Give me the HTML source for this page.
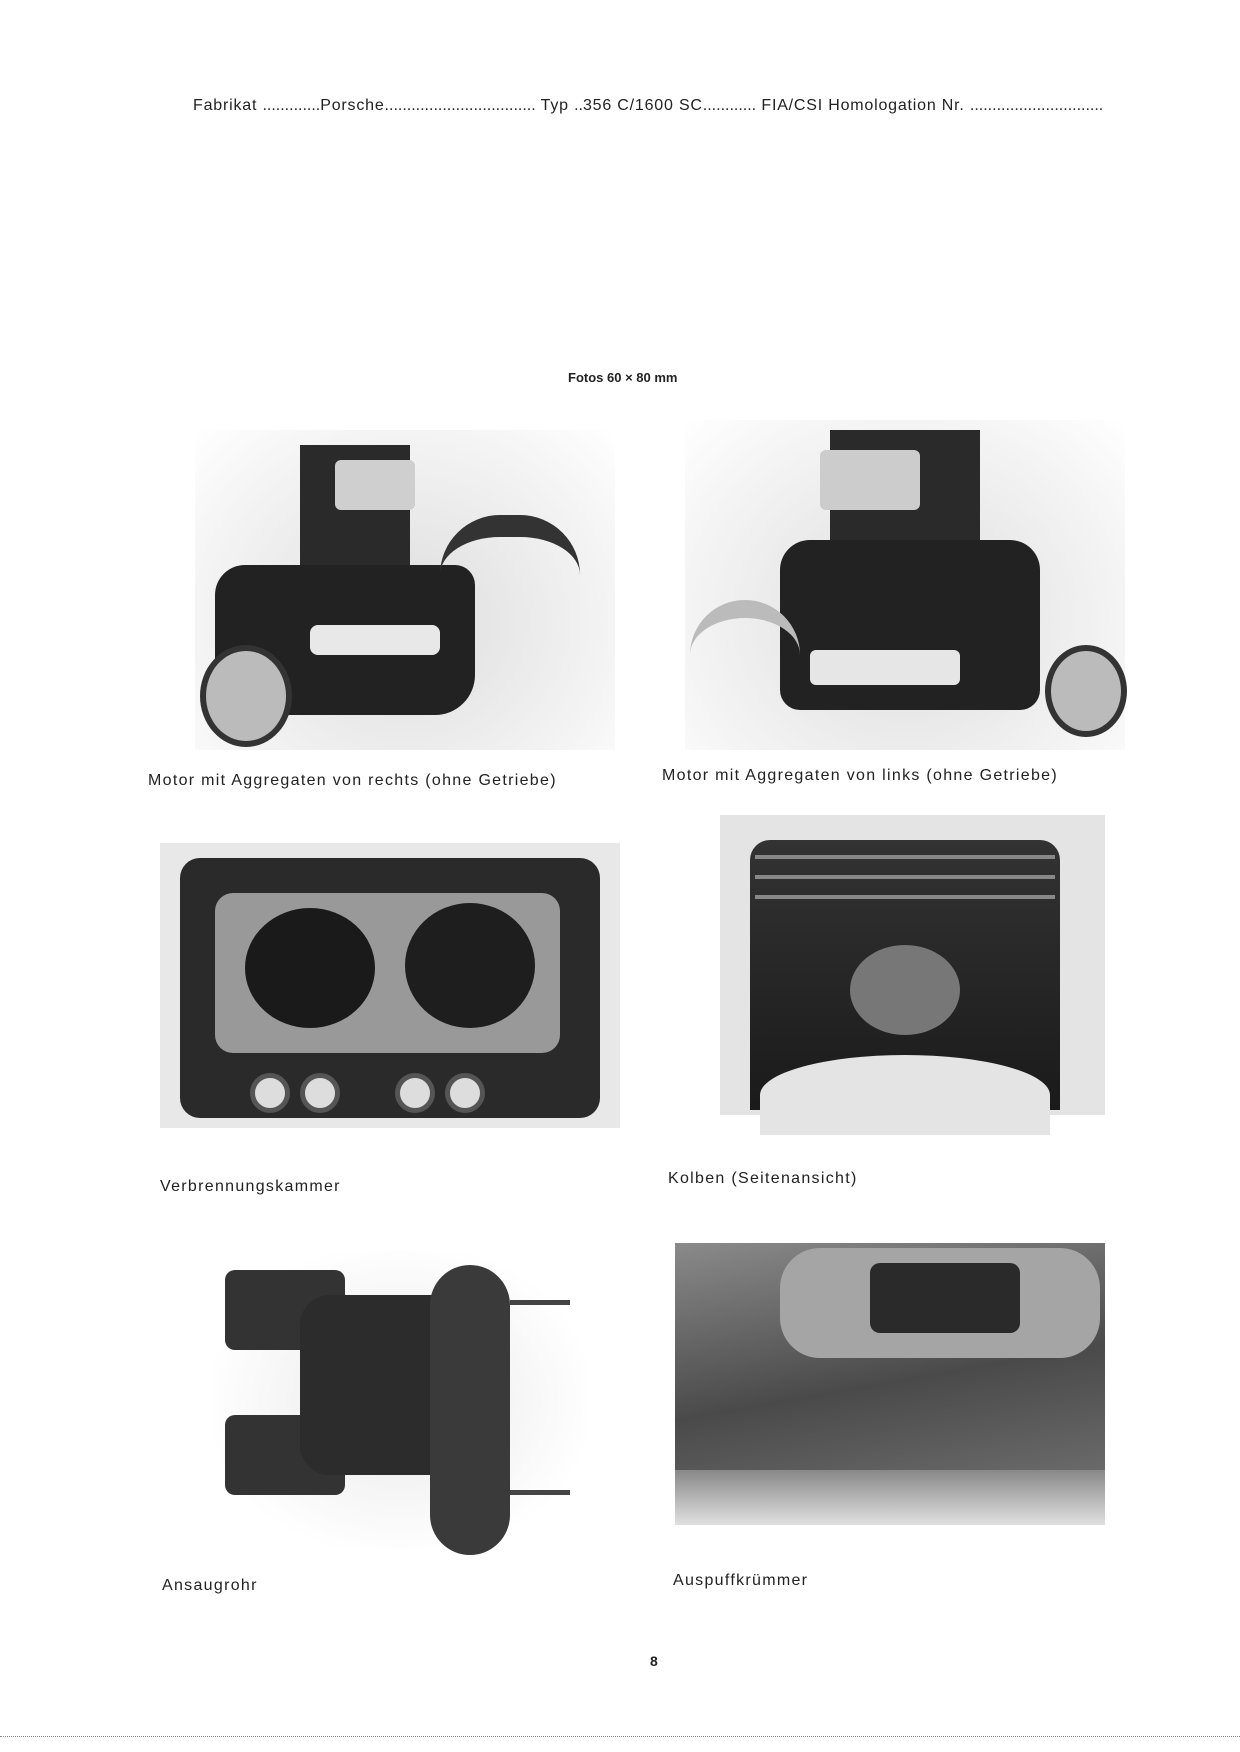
<!DOCTYPE html>
<html><head><meta charset="utf-8"><style>
*{margin:0;padding:0}
body{width:1240px;height:1752px;background:#fff;position:relative;overflow:hidden;font-family:"Liberation Sans",sans-serif;color:#222}
.t{position:absolute;font-size:16px;letter-spacing:1.3px;white-space:nowrap}
.a{position:absolute}
</style></head><body>
<div class="t" style="left:193px;top:97px;font-size:16px;letter-spacing:0.8px">Fabrikat <span style="letter-spacing:0">.............</span>Porsche<span style="letter-spacing:0">..................................</span> Typ <span style="letter-spacing:0">..</span>356 C/1600 SC<span style="letter-spacing:0">............</span> FIA/CSI Homologation Nr. <span style="letter-spacing:0">..............................</span></div>
<div class="t" style="left:568px;top:370px;font-weight:bold;font-size:13px;letter-spacing:0">Fotos 60 × 80 mm</div>

<!-- photo 1 -->
<div class="a" style="left:195px;top:430px;width:420px;height:320px;background:radial-gradient(ellipse at 50% 60%,#ddd,#f4f4f4 70%,#fff)"></div>
<div class="a" style="left:300px;top:445px;width:110px;height:150px;background:#2a2a2a"></div>
<div class="a" style="left:335px;top:460px;width:80px;height:50px;background:#cfcfcf;border-radius:6px"></div>
<div class="a" style="left:215px;top:565px;width:260px;height:150px;background:#222;border-radius:30px 20px 40px 40px"></div>
<div class="a" style="left:200px;top:645px;width:80px;height:90px;background:#bbb;border-radius:50%;border:6px solid #333"></div>
<div class="a" style="left:310px;top:625px;width:130px;height:30px;background:#e8e8e8;border-radius:8px"></div>
<div class="a" style="left:440px;top:515px;width:140px;height:80px;border-top:22px solid #333;border-radius:60px 60px 0 0"></div>
<div class="t" style="left:148px;top:772px">Motor mit Aggregaten von rechts (ohne Getriebe)</div>

<!-- photo 2 -->
<div class="a" style="left:685px;top:420px;width:440px;height:330px;background:radial-gradient(ellipse at 50% 60%,#ddd,#f4f4f4 70%,#fff)"></div>
<div class="a" style="left:830px;top:430px;width:150px;height:150px;background:#2a2a2a"></div>
<div class="a" style="left:820px;top:450px;width:100px;height:60px;background:#ccc;border-radius:6px"></div>
<div class="a" style="left:780px;top:540px;width:260px;height:170px;background:#222;border-radius:30px 30px 20px 20px"></div>
<div class="a" style="left:810px;top:650px;width:150px;height:35px;background:#e6e6e6;border-radius:6px"></div>
<div class="a" style="left:1045px;top:645px;width:70px;height:80px;background:#bbb;border-radius:50%;border:6px solid #333"></div>
<div class="a" style="left:690px;top:600px;width:110px;height:70px;border-top:18px solid #bbb;border-radius:60px 60px 0 0"></div>
<div class="t" style="left:662px;top:767px">Motor mit Aggregaten von links (ohne Getriebe)</div>

<!-- photo 3 -->
<div class="a" style="left:160px;top:843px;width:460px;height:285px;background:#e8e8e8"></div>
<div class="a" style="left:180px;top:858px;width:420px;height:260px;background:#2a2a2a;border-radius:20px"></div>
<div class="a" style="left:215px;top:893px;width:345px;height:160px;background:#999;border-radius:18px"></div>
<div class="a" style="left:245px;top:908px;width:130px;height:120px;background:#1a1a1a;border-radius:50%"></div>
<div class="a" style="left:405px;top:903px;width:130px;height:125px;background:#1e1e1e;border-radius:50%"></div>
<div class="a" style="left:250px;top:1073px;width:30px;height:30px;background:#ddd;border-radius:50%;border:5px solid #555"></div>
<div class="a" style="left:300px;top:1073px;width:30px;height:30px;background:#ddd;border-radius:50%;border:5px solid #555"></div>
<div class="a" style="left:395px;top:1073px;width:30px;height:30px;background:#ddd;border-radius:50%;border:5px solid #555"></div>
<div class="a" style="left:445px;top:1073px;width:30px;height:30px;background:#ddd;border-radius:50%;border:5px solid #555"></div>
<div class="t" style="left:160px;top:1178px">Verbrennungskammer</div>

<!-- photo 4 -->
<div class="a" style="left:720px;top:815px;width:385px;height:300px;background:#e4e4e4"></div>
<div class="a" style="left:750px;top:840px;width:310px;height:270px;background:linear-gradient(#333,#1a1a1a);border-radius:20px 20px 0 0"></div>
<div class="a" style="left:755px;top:855px;width:300px;height:4px;background:#888"></div>
<div class="a" style="left:755px;top:875px;width:300px;height:4px;background:#888"></div>
<div class="a" style="left:755px;top:895px;width:300px;height:4px;background:#888"></div>
<div class="a" style="left:850px;top:945px;width:110px;height:90px;background:#777;border-radius:50%"></div>
<div class="a" style="left:760px;top:1055px;width:290px;height:80px;background:#e4e4e4;border-radius:50% 50% 0 0"></div>
<div class="t" style="left:668px;top:1170px">Kolben (Seitenansicht)</div>

<!-- photo 5 -->
<div class="a" style="left:215px;top:1250px;width:370px;height:300px;background:radial-gradient(ellipse,#e8e8e8,#fff 75%)"></div>
<div class="a" style="left:225px;top:1270px;width:120px;height:80px;background:#333;border-radius:10px"></div>
<div class="a" style="left:225px;top:1415px;width:120px;height:80px;background:#333;border-radius:10px"></div>
<div class="a" style="left:300px;top:1295px;width:190px;height:180px;background:#2c2c2c;border-radius:30px"></div>
<div class="a" style="left:430px;top:1265px;width:80px;height:290px;background:#3a3a3a;border-radius:40px"></div>
<div class="a" style="left:510px;top:1300px;width:60px;height:5px;background:#444"></div>
<div class="a" style="left:510px;top:1490px;width:60px;height:5px;background:#444"></div>
<div class="t" style="left:162px;top:1577px">Ansaugrohr</div>

<!-- photo 6 -->
<div class="a" style="left:675px;top:1243px;width:430px;height:280px;background:linear-gradient(170deg,#8a8a8a 0%,#4a4a4a 50%,#777 100%)"></div>
<div class="a" style="left:780px;top:1248px;width:320px;height:110px;background:#a5a5a5;border-radius:40px"></div>
<div class="a" style="left:870px;top:1263px;width:150px;height:70px;background:#2a2a2a;border-radius:10px"></div>
<div class="a" style="left:675px;top:1470px;width:430px;height:55px;background:linear-gradient(#888,#e0e0e0)"></div>
<div class="t" style="left:673px;top:1572px">Auspuffkrümmer</div>

<div class="t" style="left:650px;top:1653px;font-weight:bold;font-size:14px">8</div>
<div class="a" style="left:0;top:1736px;width:1240px;border-top:1px dotted #888"></div>
</body></html>
